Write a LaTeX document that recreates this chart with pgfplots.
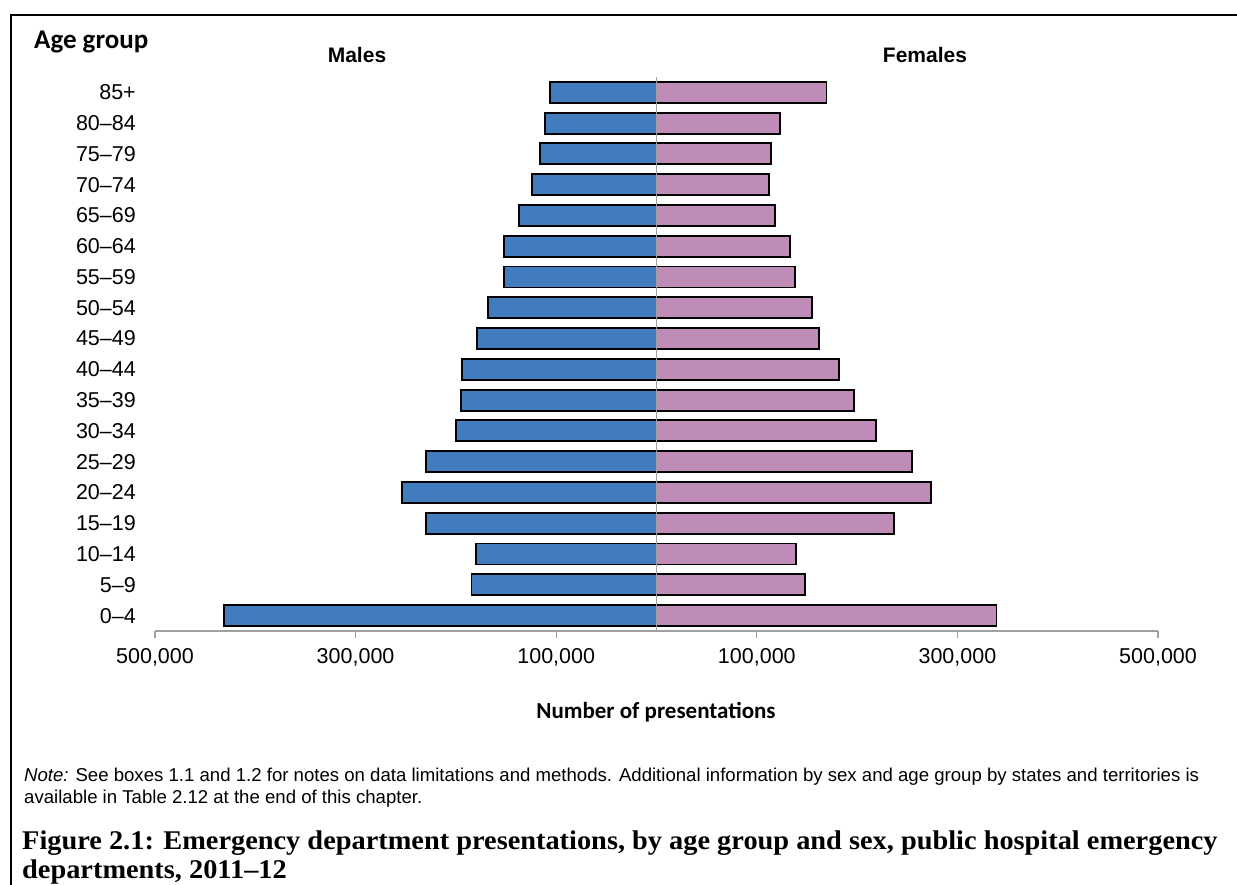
\documentclass[border=0pt]{standalone}
\usepackage{fontspec}
\setmainfont{Liberation Sans}
\newfontfamily\calibri{Carlito}
\newfontfamily\capfont[FakeStretch=1.05]{Liberation Serif}
\usepackage{pgfplots}
\pgfplotsset{compat=1.18}
\definecolor{mblue}{RGB}{65,125,190}
\definecolor{mpink}{RGB}{190,140,183}
\definecolor{axgray}{RGB}{160,160,160}
\begin{document}
\begin{tikzpicture}[x=1bp,y=1bp]
\useasboundingbox (0,0) rectangle (1237,885);
\clip (0,0) rectangle (1237,885);
\draw[line width=2.5bp] (11,0) -- (11,870) -- (1240,870);
\begin{axis}[
  at={(155bp,254bp)}, anchor=south west,
  scale only axis, width=1003bp, height=554bp,
  xmin=-500000, xmax=500000, ymin=-0.5, ymax=17.5,
  axis x line*=bottom, axis y line*=left,
  y axis line style={draw=none},
  x axis line style={axgray, line width=1.6bp, -},
  scaled x ticks=false,
  xtick={-500000,-300000,-100000,100000,300000,500000},
  xticklabels={{500,000},{300,000},{100,000},{100,000},{300,000},{500,000}},
  xtick style={axgray, line width=1.3bp},
  ytick={0,...,17},
  yticklabels={0–4,5–9,10–14,15–19,20–24,25–29,30–34,35–39,40–44,45–49,50–54,55–59,60–64,65–69,70–74,75–79,80–84,85+},
  ytick style={draw=none},
  tick align=outside, major tick length=7bp,
  tick label style={font=\fontsize{21.5bp}{25bp}\selectfont, inner sep=0pt},
  xticklabel style={anchor=north, yshift=-10bp},
  yticklabel style={anchor=east, xshift=-12bp},
  /pgf/number format/assume math mode=true,
  clip=false,
]
\addplot[xbar, bar width=21bp, bar shift=0pt, fill=mblue, draw=black, line width=1.9bp] coordinates {
(-431000,0) (-184500,1) (-180000,2) (-229500,3) (-254000,4) (-230000,5) (-200000,6) (-194500,7) (-194000,8) (-179000,9) (-168000,10) (-152500,11) (-152000,12) (-137500,13) (-124500,14) (-116000,15) (-111000,16) (-106000,17)};
\addplot[xbar, bar width=21bp, bar shift=0pt, fill=mpink, draw=black, line width=1.9bp] coordinates {
(339000,0) (148000,1) (139000,2) (236500,3) (273500,4) (255000,5) (219000,6) (197000,7) (181500,8) (162000,9) (155000,10) (138000,11) (133000,12) (118000,13) (112500,14) (114000,15) (123500,16) (169500,17)};
\draw[axgray, line width=1.8bp] (axis cs:0,-0.5) -- (axis cs:0,17.5);
\end{axis}
\node[anchor=base west, inner sep=0pt, font=\calibri\bfseries\fontsize{27bp}{32bp}\selectfont] at (34,836) {Age group};
\node[anchor=base, inner sep=0pt, font=\bfseries\fontsize{21bp}{25bp}\selectfont] at (357,822) {Males};
\node[anchor=base, inner sep=0pt, font=\bfseries\fontsize{21bp}{25bp}\selectfont] at (925,822) {Females};
\node[anchor=base, inner sep=0pt, font=\calibri\bfseries\fontsize{23bp}{27bp}\selectfont] at (656,166) {Number of presentations};
\node[anchor=base west, inner sep=0pt, font=\fontsize{18.6bp}{22bp}\selectfont] at (24,103) {\textit{Note:} See boxes 1.1 and 1.2 for notes on data limitations and methods. Additional information by sex and age group by states and territories is};
\node[anchor=base west, inner sep=0pt, font=\fontsize{18.6bp}{22bp}\selectfont] at (24,81) {available in Table 2.12 at the end of this chapter.};
\node[anchor=base west, inner sep=0pt, font=\capfont\bfseries\fontsize{27bp}{32bp}\selectfont] at (22,35) {Figure 2.1: Emergency department presentations, by age group and sex, public hospital emergency};
\node[anchor=base west, inner sep=0pt, font=\capfont\bfseries\fontsize{27bp}{32bp}\selectfont] at (22,6) {departments, 2011–12};
\end{tikzpicture}
\end{document}
